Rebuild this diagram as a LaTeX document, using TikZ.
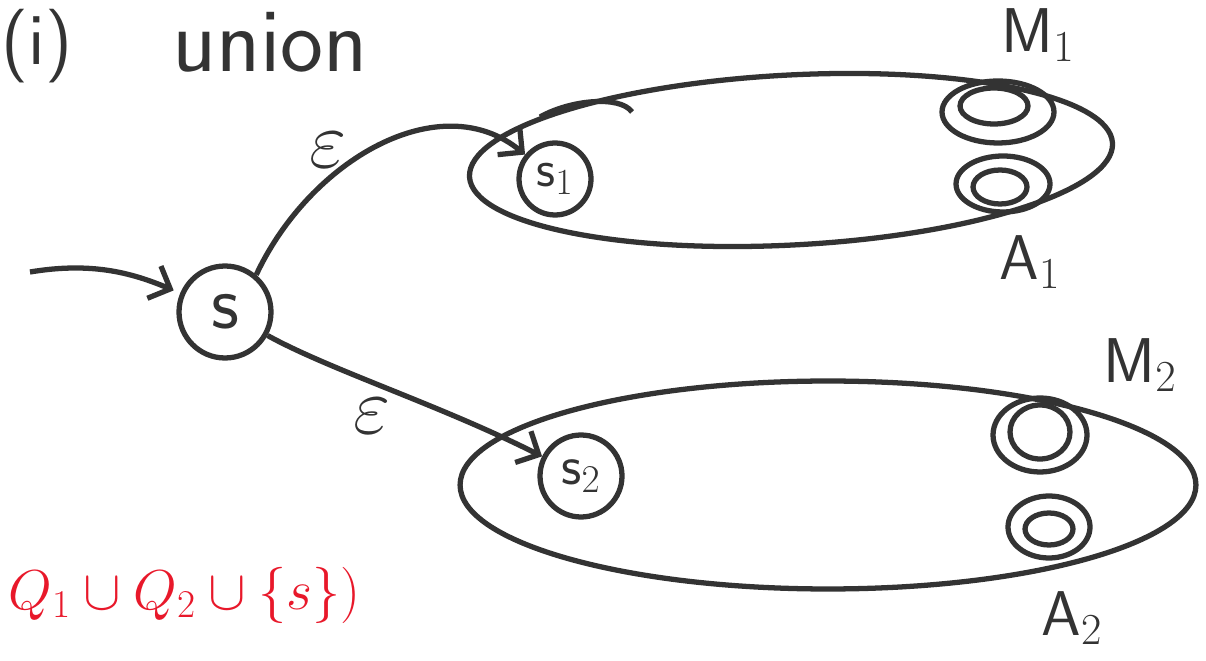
\RequirePackage{fix-cm}
\documentclass[tikz,border=0pt]{standalone}
\usetikzlibrary{arrows.meta}

\definecolor{ink}{HTML}{333333}
\definecolor{redink}{HTML}{E8182A}

\tikzset{
  state/.style={circle, draw=ink, line width=3pt, inner sep=0pt, text=ink},
  lbl/.style={text=ink, font=\sffamily\fontsize{36}{40}\selectfont},
  eps/.style={text=ink, font=\fontsize{46}{50}\selectfont},
}

\begin{document}
\begin{tikzpicture}[x=0.02cm, y=-0.02cm, line width=3pt, color=ink,
  >={Straight Barb[length=3.5mm, width=7mm]}]

  \useasboundingbox (0,0) rectangle (1206,661);

  % -- Title --
  \node[lbl, font=\sffamily\fontsize{42}{46}\selectfont] (part) at (37,46) {(i)};
  \node[lbl, font=\sffamily\fontsize{52}{56}\selectfont] (title) at (270,42) {union};

  % -- Machines --
  \draw[rotate around={3:(791,160)}] (791,160) ellipse [x radius=6.44cm, y radius=1.7cm];
  \draw (540,117) .. controls (570,100) and (620,95) .. (632,112);
  \draw (828,485) ellipse [x radius=7.36cm, y radius=2.08cm];

  % -- Accepting states --
  \draw (998,112) ellipse [x radius=1.12cm, y radius=0.62cm];
  \draw (994,106) ellipse [x radius=0.68cm, y radius=0.36cm];
  \draw (1003,184) ellipse [x radius=0.94cm, y radius=0.56cm];
  \draw (1000,187) ellipse [x radius=0.54cm, y radius=0.34cm];
  \draw (1040,435) ellipse [x radius=0.94cm, y radius=0.74cm];
  \draw (1040,432) ellipse [x radius=0.6cm, y radius=0.54cm];
  \draw (1049,527) ellipse [x radius=0.82cm, y radius=0.62cm];
  \draw (1049,529) ellipse [x radius=0.48cm, y radius=0.32cm];

  % -- States --
  \node[state, minimum size=1.84cm, font=\sffamily\fontsize{44}{48}\selectfont] (s) at (225,312) {s};
  \node[state, minimum size=1.44cm, font=\sffamily\fontsize{30}{34}\selectfont] (s1) at (555,179) {s$_1$};
  \node[state, minimum size=1.64cm, font=\sffamily\fontsize{32}{36}\selectfont] (s2) at (581,476) {s$_2$};

  % -- Transitions --
  \coordinate (start) at (30,272);
  \draw[->, shorten >=4pt] (start) .. controls (90,262) and (130,272) .. (s);
  \draw[->] (s.50) .. controls (310,160) and (440,85) .. (s1);
  \draw[->] (s) .. controls (330,370) and (440,405) .. (s2);
  \node[eps] (e1) at (328,150) {$\varepsilon$};
  \node[eps] (e2) at (372,416) {$\varepsilon$};

  % -- Labels --
  \node[lbl] (m1) at (1038,35) {M$_1$};
  \node[lbl] (a1) at (1030,262) {A$_1$};
  \node[lbl] (m2) at (1140,365) {M$_2$};
  \node[lbl] (a2) at (1072,618) {A$_2$};

  % -- State set --
  \node[anchor=west, text=redink, font=\fontsize{32}{36}\selectfont] (qset) at (0,595) {$Q_1\cup Q_2\cup\{s\})$};

\end{tikzpicture}
\end{document}
